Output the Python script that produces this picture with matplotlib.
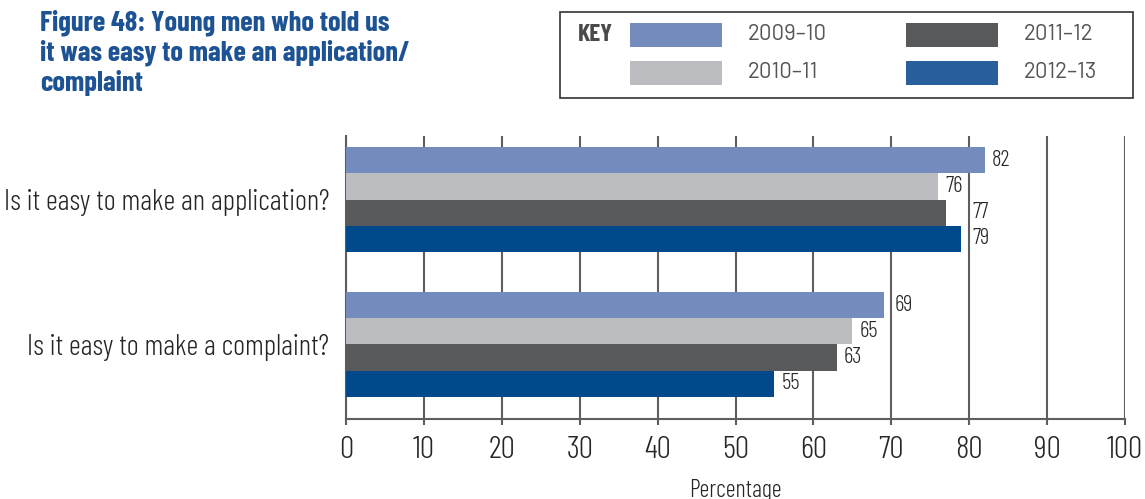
import matplotlib
matplotlib.use("Agg")
import numpy as np
import matplotlib.pyplot as plt
from matplotlib.patches import Rectangle

# values (%)
questions = ["Is it easy to make an application?", "Is it easy to make a complaint?"]
years = ["2009–10", "2010–11", "2011–12", "2012–13"]
pct_2009 = [82, 69]
pct_2010 = [76, 65]
pct_2011 = [77, 63]
pct_2012 = [79, 55]
series = [pct_2009, pct_2010, pct_2011, pct_2012]

bar_colors = ["#738bbd", "#bcbdc0", "#58595b", "#004a8c"]
key_colors = ["#738bbd", "#bcbdc0", "#58595b", "#2a5f9e"]
grid_col = "#5e5e5e"
title_col = "#1d5394"
text_col = "#262626"
FONT = "Barlow Condensed"

W, H = 1145, 499
fig = plt.figure(figsize=(W / 100, H / 100), dpi=100)


def fx(px):
    return px / W


def fy(py):
    return 1 - py / H


ax = fig.add_axes([fx(346), fy(419), fx(1125) - fx(346), fy(136) - fy(419)])

y = np.arange(len(questions))
h = 0.181
for i, vals in enumerate(series):
    pos = y + (i - 1.5) * h
    ax.barh(pos, vals, height=h, color=bar_colors[i], zorder=3)
    for p, v in zip(pos, vals):
        # nudge labels clear of a grid line sitting just past the bar end
        nxt = np.ceil(v / 10) * 10
        lx = nxt + 0.4 if nxt - v < 3.2 and nxt != v else v + 0.9
        ax.text(lx, p, str(v), va="center", ha="left", family=FONT,
                weight=350, fontsize=16.5, color=text_col, zorder=4)

ax.set_xlim(0, 100)
ax.set_ylim(1.514, -0.438)
ax.set_xticks(np.arange(0, 101, 10))
ax.set_yticks(y)
ax.set_yticklabels(questions)
ax.grid(axis="x", color=grid_col, linewidth=1.5, zorder=0)
ax.tick_params(axis="y", length=0, pad=12, labelsize=21, labelcolor=text_col)
ax.tick_params(axis="x", length=4, width=1.5, color=grid_col, pad=8,
               labelsize=23, labelcolor=text_col)
for lab in ax.get_xticklabels() + ax.get_yticklabels():
    lab.set_family(FONT)
    lab.set_fontweight(350)
for s in ["top", "right"]:
    ax.spines[s].set_visible(False)
for s in ["left", "bottom"]:
    ax.spines[s].set_color(grid_col)
    ax.spines[s].set_linewidth(1.5)
ax.set_xlabel("Percentage", family=FONT, weight=350, fontsize=17.5,
              color=text_col, labelpad=11)

# title
fig.text(fx(40), fy(9), "Figure 48: Young men who told us\nit was easy to make an application/\ncomplaint",
         ha="left", va="top", family=FONT, weight="bold", fontsize=20.5,
         color=title_col, linespacing=1.2)

# key box
fig.add_artist(Rectangle((fx(560), fy(98)), fx(1133) - fx(560), fy(12) - fy(98),
                         transform=fig.transFigure, fill=False,
                         edgecolor="#333333", linewidth=1.2))
fig.text(fx(578), fy(35), "KEY", ha="left", va="center", family=FONT,
         weight="bold", fontsize=18, color="#4a4a4a")
key_x = [630, 630, 906, 906]
key_y = [35, 73, 35, 73]
for i in range(4):
    fig.add_artist(Rectangle((fx(key_x[i]), fy(key_y[i] + 11.5)), fx(92), 23 / H,
                             transform=fig.transFigure, facecolor=key_colors[i],
                             edgecolor="none"))
    fig.text(fx(key_x[i] + 118), fy(key_y[i]), years[i], ha="left", va="center",
             family="Barlow", weight="normal", fontsize=16, color="#555555")

fig.savefig("out.png", dpi=100)
